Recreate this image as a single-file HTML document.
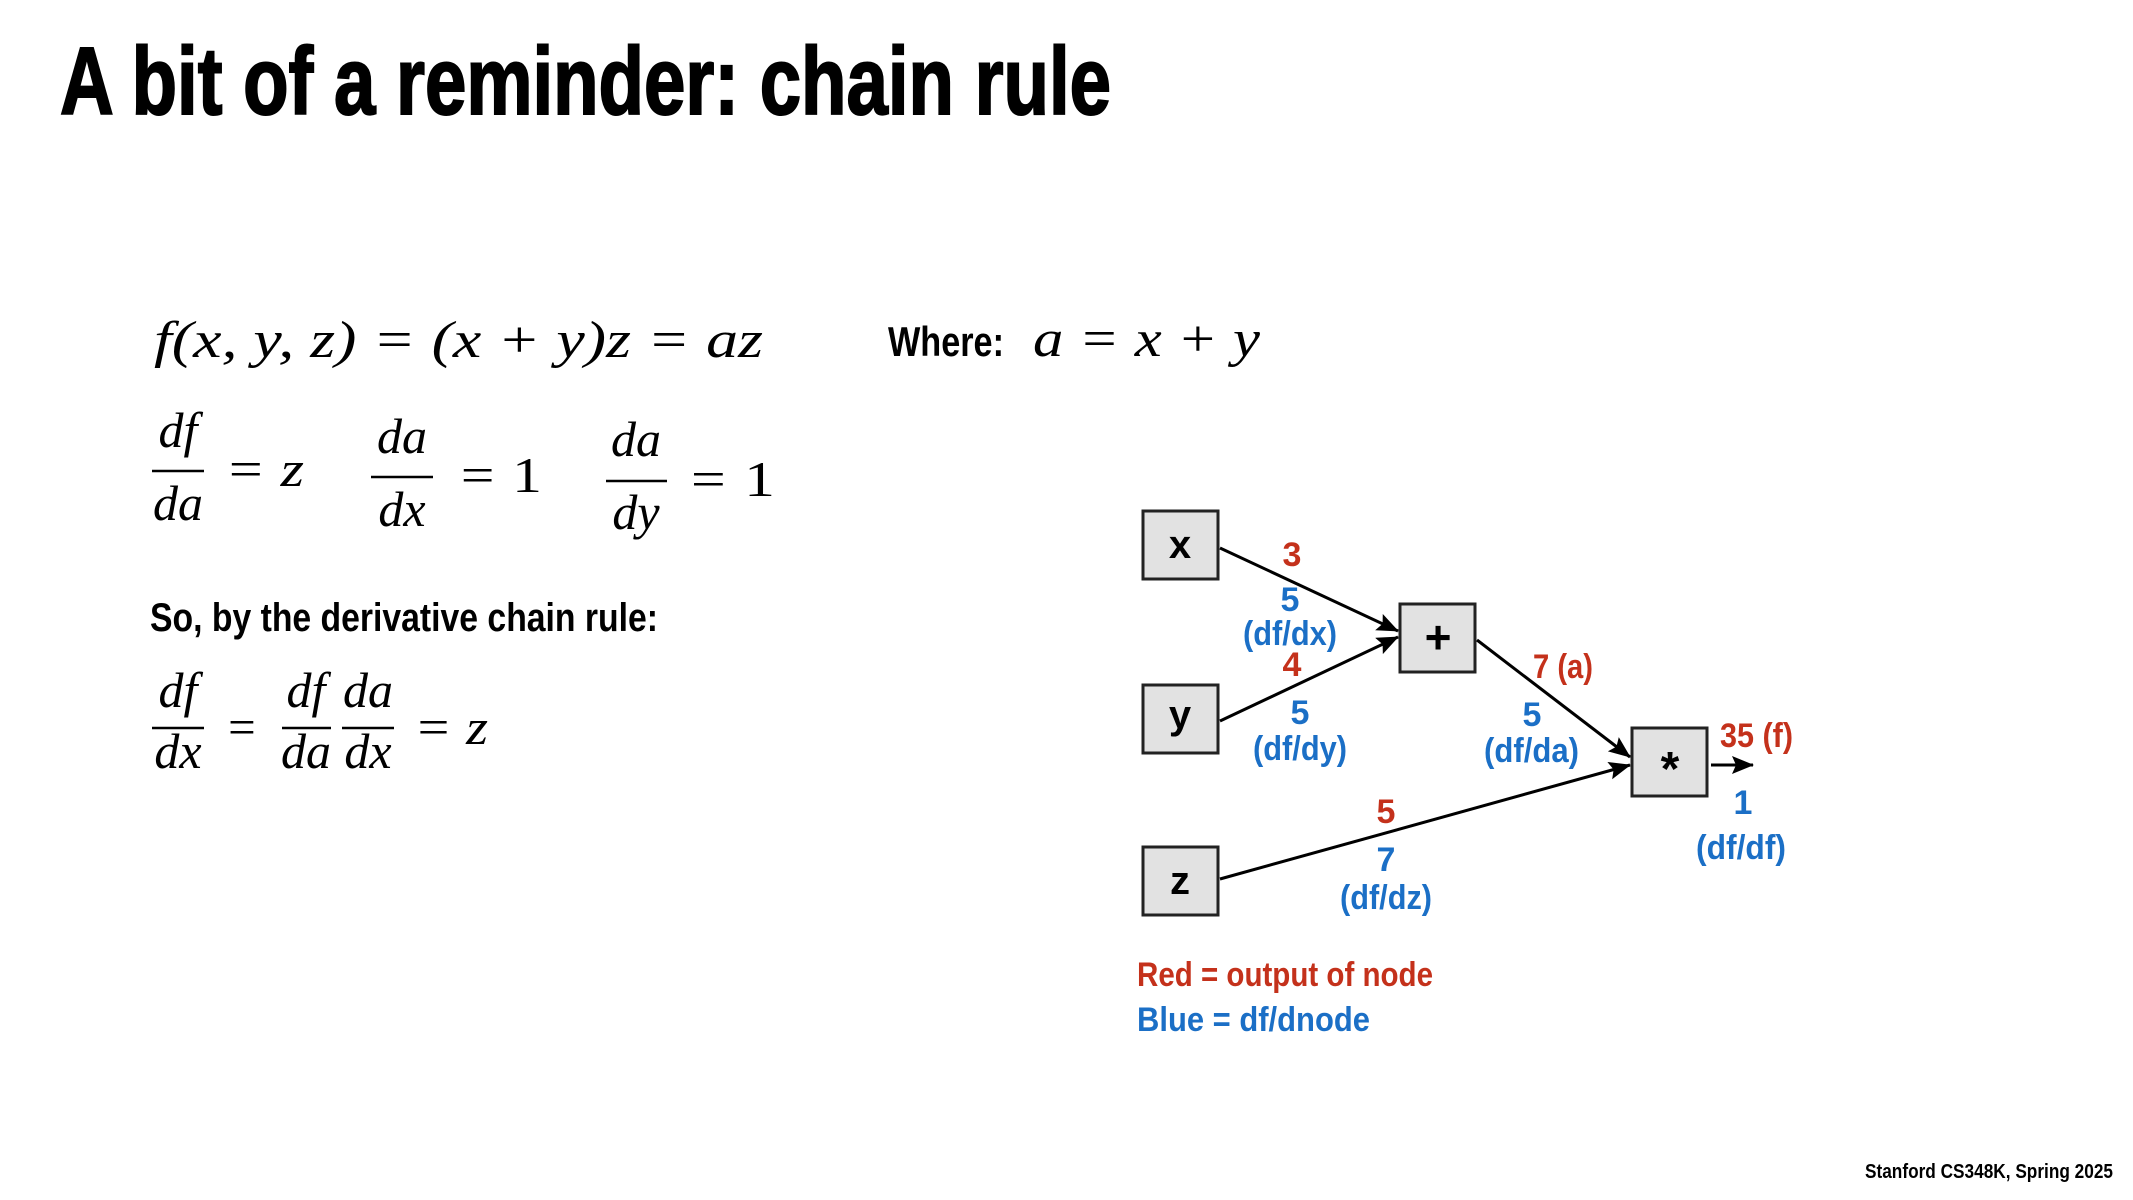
<!DOCTYPE html>
<html><head><meta charset="utf-8"><style>
html,body{margin:0;padding:0;background:#fff;}
svg{display:block;}
.b{font-family:"Liberation Sans Narrow","Liberation Sans",sans-serif;font-weight:bold;}
.m{font-family:"Liberation Serif",serif;font-style:italic;}
.n{font-family:"Liberation Serif",serif;}
.r{fill:#c4311b;}
.u{fill:#1b6fc6;}
</style></head><body>
<svg width="2133" height="1200" viewBox="0 0 2133 1200" xmlns="http://www.w3.org/2000/svg">
<defs>
<marker id="ah2" markerWidth="22" markerHeight="18" refX="21" refY="9" orient="auto" markerUnits="userSpaceOnUse" viewBox="0 0 22 18">
<path d="M0,0 L22,9 L0,18 L4,9 Z" fill="#000"/>
</marker>
</defs>

<text class="b" x="60" y="114" font-size="96" textLength="1051" lengthAdjust="spacingAndGlyphs" stroke="#000" stroke-width="2">A bit of a reminder: chain rule</text>

<text class="m" x="154" y="357" font-size="52" textLength="609" lengthAdjust="spacingAndGlyphs">f(x, y, z) = (x + y)z = az</text>
<text class="b" x="888" y="356" font-size="42" textLength="116" lengthAdjust="spacingAndGlyphs">Where:</text>
<text class="m" x="1033" y="356" font-size="52" textLength="227" lengthAdjust="spacingAndGlyphs">a = x + y</text>

<g class="m" font-size="50">
<text x="178" y="447" text-anchor="middle">df</text>
<line x1="152" y1="471" x2="204" y2="471" stroke="#000" stroke-width="2.5"/>
<text x="178" y="520" text-anchor="middle">da</text>
<text x="225" y="486" textLength="79" lengthAdjust="spacingAndGlyphs">= z</text>

<text x="402" y="453" text-anchor="middle">da</text>
<line x1="371" y1="477" x2="433" y2="477" stroke="#000" stroke-width="2.5"/>
<text x="402" y="526" text-anchor="middle">dx</text>
<text x="457" y="492" textLength="85" lengthAdjust="spacingAndGlyphs">= <tspan class="n" font-style="normal">1</tspan></text>

<text x="636" y="456" text-anchor="middle">da</text>
<line x1="606" y1="481" x2="667" y2="481" stroke="#000" stroke-width="2.5"/>
<text x="636" y="529" text-anchor="middle">dy</text>
<text x="687" y="496" textLength="88" lengthAdjust="spacingAndGlyphs">= <tspan class="n" font-style="normal">1</tspan></text>
</g>

<text class="b" x="150" y="631" font-size="40" textLength="508" lengthAdjust="spacingAndGlyphs">So, by the derivative chain rule:</text>

<g class="m" font-size="50">
<text x="178" y="707" text-anchor="middle">df</text>
<line x1="152" y1="728" x2="204" y2="728" stroke="#000" stroke-width="2.5"/>
<text x="178" y="768" text-anchor="middle">dx</text>
<text x="225" y="744" textLength="33" lengthAdjust="spacingAndGlyphs">=</text>
<text x="306" y="707" text-anchor="middle">df</text>
<line x1="282" y1="728" x2="331" y2="728" stroke="#000" stroke-width="2.5"/>
<text x="306" y="768" text-anchor="middle">da</text>
<text x="368" y="707" text-anchor="middle">da</text>
<line x1="342" y1="728" x2="394" y2="728" stroke="#000" stroke-width="2.5"/>
<text x="368" y="768" text-anchor="middle">dx</text>
<text x="414" y="744" textLength="74" lengthAdjust="spacingAndGlyphs">= z</text>
</g>

<g fill="#e2e2e2" stroke="#222" stroke-width="3">
<rect x="1143" y="511" width="75" height="68"/>
<rect x="1143" y="685" width="75" height="68"/>
<rect x="1143" y="847" width="75" height="68"/>
<rect x="1400" y="604" width="75" height="68"/>
<rect x="1632" y="728" width="75" height="68"/>
</g>
<g class="b" font-size="40" text-anchor="middle">
<text x="1180" y="558">x</text>
<text x="1180" y="728">y</text>
<text x="1180" y="894">z</text>
<text x="1438" y="653" font-size="46">+</text>
<text x="1670" y="785" font-size="48">*</text>
</g>

<g stroke="#000" stroke-width="3" fill="none">
<line x1="1220" y1="548" x2="1398" y2="631" marker-end="url(#ah2)"/>
<line x1="1220" y1="721" x2="1398" y2="637" marker-end="url(#ah2)"/>
<line x1="1477" y1="640" x2="1630" y2="757" marker-end="url(#ah2)"/>
<line x1="1220" y1="879" x2="1630" y2="765" marker-end="url(#ah2)"/>
<line x1="1711" y1="765" x2="1753" y2="765" marker-end="url(#ah2)"/>
</g>

<g class="b" font-size="34">
<text class="r" x="1292" y="566" text-anchor="middle">3</text>
<text class="u" x="1290" y="611" text-anchor="middle">5</text>
<text class="u" x="1243" y="645" textLength="94" lengthAdjust="spacingAndGlyphs">(df/dx)</text>
<text class="r" x="1292" y="676" text-anchor="middle">4</text>
<text class="u" x="1300" y="724" text-anchor="middle">5</text>
<text class="u" x="1253" y="760" textLength="94" lengthAdjust="spacingAndGlyphs">(df/dy)</text>
<text class="r" x="1533" y="678" textLength="60" lengthAdjust="spacingAndGlyphs">7 (a)</text>
<text class="u" x="1532" y="726" text-anchor="middle">5</text>
<text class="u" x="1484" y="762" textLength="95" lengthAdjust="spacingAndGlyphs">(df/da)</text>
<text class="r" x="1720" y="747" textLength="73" lengthAdjust="spacingAndGlyphs">35 (f)</text>
<text class="u" x="1743" y="814" text-anchor="middle">1</text>
<text class="u" x="1696" y="859" textLength="90" lengthAdjust="spacingAndGlyphs">(df/df)</text>
<text class="r" x="1386" y="823" text-anchor="middle">5</text>
<text class="u" x="1386" y="871" text-anchor="middle">7</text>
<text class="u" x="1340" y="909" textLength="92" lengthAdjust="spacingAndGlyphs">(df/dz)</text>
</g>

<text class="b r" x="1137" y="986" font-size="34" textLength="296" lengthAdjust="spacingAndGlyphs">Red = output of node</text>
<text class="b u" x="1137" y="1031" font-size="34" textLength="233" lengthAdjust="spacingAndGlyphs">Blue = df/dnode</text>

<text class="b" x="1865" y="1178" font-size="20" textLength="248" lengthAdjust="spacingAndGlyphs">Stanford CS348K, Spring 2025</text>
</svg>
</body></html>
